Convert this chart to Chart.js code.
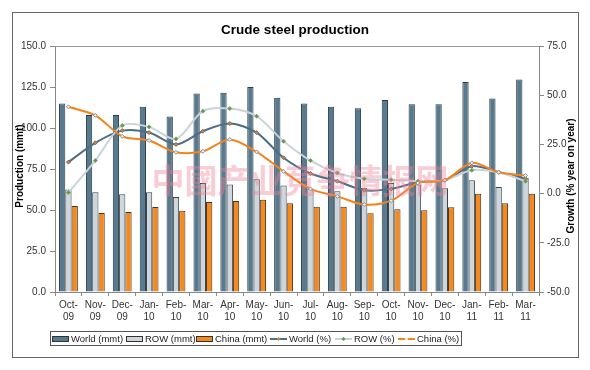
<!DOCTYPE html>
<html>
<head>
<meta charset="utf-8">
<script src="https://cdn.jsdelivr.net/npm/chart.js@4.4.0/dist/chart.umd.min.js"></script>
<style>
  html, body { margin: 0; padding: 0; background: #fff; }
  #wrap { width: 590px; height: 370px; }
</style>
</head>
<body>
<div id="wrap"><canvas id="grafico" width="590" height="370"></canvas></div>
<script>
// dados
const meses = [
  ['Oct-', '09'], ['Nov-', '09'], ['Dec-', '09'], ['Jan-', '10'], ['Feb-', '10'], ['Mar-', '10'],
  ['Apr-', '10'], ['May-', '10'], ['Jun-', '10'], ['Jul-', '10'], ['Aug-', '10'], ['Sep-', '10'],
  ['Oct-', '10'], ['Nov-', '10'], ['Dec-', '10'], ['Jan-', '11'], ['Feb-', '11'], ['Mar-', '11']
];
const worldMmt = [115, 108, 108, 113, 107, 121, 121.5, 125, 118.5, 115, 113, 112, 117, 114.5, 114.5, 128, 118, 129.5];
const rowMmt = [62.5, 60.8, 59.6, 60.8, 57.9, 66.4, 65.6, 68.7, 65, 63, 61.5, 63.5, 66.5, 65.5, 63.2, 68.2, 64, 69.6];
const chinaMmt = [52.5, 48.2, 48.8, 51.9, 49.6, 54.9, 55.5, 56.3, 54.1, 52, 52, 48, 50.5, 49.8, 51.7, 59.9, 54.1, 59.9];
const worldPct = [16, 25.8, 32, 31, 25, 31.7, 35.6, 31, 18.2, 10.2, 6.3, 1.7, 2.4, 5.8, 6.8, 13.9, 10.9, 7.5];
const rowPct = [0.5, 16.8, 34.6, 33.9, 27.8, 41.9, 43.2, 39.3, 26.6, 16.8, 10.5, 7.5, 7.1, 6.3, 6.8, 11.9, 10.8, 6.3];
const chinaPct = [44.1, 39.8, 29.1, 27, 21, 21.5, 27.5, 21.2, 11.3, 2.4, -1.4, -5.6, -3.6, 5.4, 6.8, 15.6, 10.8, 9.2];

const titulo = 'Crude steel production';
const tituloEsq = 'Production (mmt)';
const tituloDir = 'Growth (% year on year)';
const marcaDagua = '中國产业竞争情报网';

const FONTE = '"Liberation Sans", Arial, sans-serif';

// moldura, título, legenda e títulos dos eixos
const extras = {
  id: 'extras',
  beforeDraw(chart) {
    const ctx = chart.ctx;
    ctx.save();
    ctx.fillStyle = '#fff';
    ctx.fillRect(0, 0, chart.width, chart.height);
    ctx.strokeStyle = '#666';
    ctx.lineWidth = 1;
    ctx.strokeRect(12.5, 12.5, 566, 345);
    ctx.restore();
  },
  afterDraw(chart) {
    const ctx = chart.ctx;
    const area = chart.chartArea;
    ctx.save();
    // linha superior da área do gráfico
    ctx.strokeStyle = '#999';
    ctx.lineWidth = 1;
    ctx.beginPath();
    ctx.moveTo(area.left, area.top + 0.5);
    ctx.lineTo(area.right, area.top + 0.5);
    ctx.stroke();

    ctx.fillStyle = '#000';
    ctx.font = 'bold 13.5px ' + FONTE;
    ctx.textAlign = 'center';
    ctx.textBaseline = 'middle';
    ctx.fillText(titulo, 295, 30);

    ctx.font = 'bold 10px ' + FONTE;
    ctx.save();
    ctx.translate(20, 166);
    ctx.rotate(-Math.PI / 2);
    ctx.fillText(tituloEsq, 0, 0);
    ctx.restore();
    ctx.save();
    ctx.translate(571, 176);
    ctx.rotate(-Math.PI / 2);
    ctx.fillText(tituloDir, 0, 0);
    ctx.restore();

    // legenda
    ctx.strokeStyle = '#555';
    ctx.strokeRect(50.5, 331.5, 411, 14);
    const posicoes = [52, 126, 196, 270, 335, 398];
    const ds = chart.data.datasets;
    const y = 339;
    ctx.font = '9.5px ' + FONTE;
    ctx.textAlign = 'left';
    ds.forEach((d, i) => {
      const x = posicoes[i];
      if (d.type === 'bar') {
        ctx.fillStyle = d.backgroundColor;
        ctx.fillRect(x + 0.5, y - 2.5, 16, 5);
        ctx.strokeStyle = '#333';
        ctx.strokeRect(x + 0.5, y - 2.5, 16, 5);
      } else {
        ctx.strokeStyle = d.borderColor;
        ctx.lineWidth = 2;
        ctx.beginPath();
        ctx.moveTo(x, y);
        ctx.lineTo(x + 17, y);
        ctx.stroke();
        ctx.fillStyle = d.pointBackgroundColor;
        ctx.beginPath();
        ctx.moveTo(x + 8.5, y - 2);
        ctx.lineTo(x + 10.5, y);
        ctx.lineTo(x + 8.5, y + 2);
        ctx.lineTo(x + 6.5, y);
        ctx.closePath();
        ctx.fill();
        ctx.lineWidth = 1;
      }
      ctx.fillStyle = '#222';
      ctx.fillText(d.label, x + 19, y + 0.5);
    });

    // marca d'água
    ctx.font = 'bold 33px "Noto Sans CJK SC", sans-serif';
    ctx.fillStyle = 'rgba(240, 130, 150, 0.4)';
    ctx.textAlign = 'center';
    ctx.fillText(marcaDagua, 300, 180);
    ctx.restore();
  }
};

const ctx = document.getElementById('grafico').getContext('2d');
new Chart(ctx, {
  data: {
    labels: meses,
    datasets: [
      { type: 'bar', label: 'World (mmt)', data: worldMmt, yAxisID: 'y', backgroundColor: '#587A8F', borderColor: '#2c3b45', borderWidth: 1, order: 10 },
      { type: 'bar', label: 'ROW (mmt)', data: rowMmt, yAxisID: 'y', backgroundColor: '#CDD6DC', borderColor: '#3a4248', borderWidth: 1, order: 10 },
      { type: 'bar', label: 'China (mmt)', data: chinaMmt, yAxisID: 'y', backgroundColor: '#F48A1E', borderColor: '#4a3320', borderWidth: 1, order: 10 },
      { type: 'line', label: 'World (%)', data: worldPct, yAxisID: 'y1', borderColor: '#4E6E85', borderWidth: 2, tension: 0.3,
        pointStyle: 'rectRot', pointRadius: 2, pointBackgroundColor: '#C9834A', pointBorderColor: '#8a6a55', pointBorderWidth: 1, order: 3 },
      { type: 'line', label: 'ROW (%)', data: rowPct, yAxisID: 'y1', borderColor: '#C8D3DA', borderWidth: 2, tension: 0.3,
        pointStyle: 'rectRot', pointRadius: 2, pointBackgroundColor: '#5E9A45', pointBorderColor: '#7ea86a', pointBorderWidth: 1, order: 2 },
      { type: 'line', label: 'China (%)', data: chinaPct, yAxisID: 'y1', borderColor: '#F2841C', borderWidth: 2, tension: 0.3,
        pointStyle: 'rectRot', pointRadius: 2, pointBackgroundColor: '#E8ECEE', pointBorderColor: '#8a949a', pointBorderWidth: 1, order: 1 }
    ]
  },
  options: {
    responsive: false,
    animation: false,
    layout: { padding: { top: 46, bottom: 48, left: 0, right: 0 } },
    plugins: {
      legend: { display: false },
      title: { display: false },
      tooltip: { enabled: false }
    },
    datasets: {
      bar: { categoryPercentage: 0.7, barPercentage: 1.0 }
    },
    scales: {
      x: {
        offset: true,
        grid: { offset: true, drawOnChartArea: false, tickLength: 4, color: '#888' },
        border: { color: '#888' },
        ticks: { autoSkip: false, maxRotation: 0, padding: 3, color: '#333', font: { family: FONTE, size: 10 } },
        afterFit(scale) { scale.height = 30; }
      },
      y: {
        position: 'left',
        min: 0, max: 150,
        ticks: { stepSize: 25, padding: 4, color: '#333', font: { family: FONTE, size: 10 },
          callback: v => v.toFixed(1) },
        grid: { drawOnChartArea: false, tickLength: 5, color: '#888' },
        border: { color: '#888' },
        afterFit(scale) { scale.width = 55; }
      },
      y1: {
        position: 'right',
        min: -50, max: 75,
        ticks: { stepSize: 25, padding: 3, color: '#333', font: { family: FONTE, size: 10 },
          callback: v => v.toFixed(1) },
        grid: { drawOnChartArea: false, tickLength: 5, color: '#888' },
        border: { color: '#888' },
        afterFit(scale) { scale.width = 51; }
      }
    }
  },
  plugins: [extras]
});
</script>
</body>
</html>
